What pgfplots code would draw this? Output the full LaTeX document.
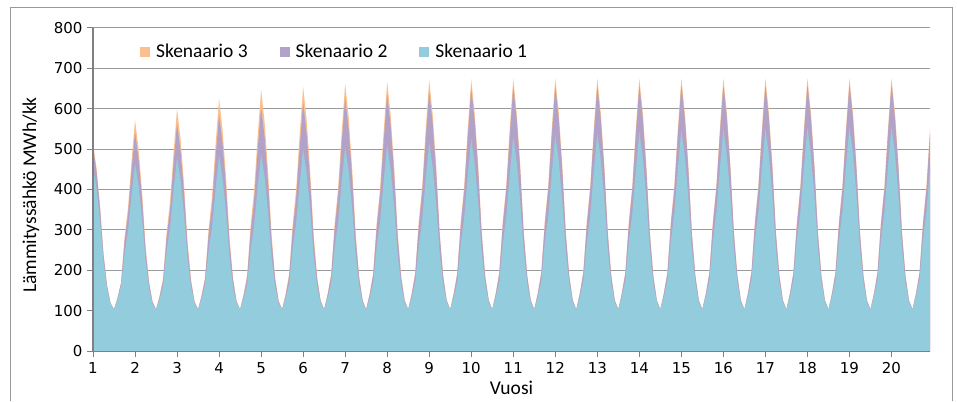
\documentclass[border=0pt]{standalone}
\usepackage{pgfplots}
\pgfplotsset{compat=1.18}
\usepackage{pgfplotstable}
\usepackage{fontspec}
\setmainfont{Carlito}
\newfontfamily\tickfont{DejaVu Sans}
\definecolor{sc3}{HTML}{FAC090}
\definecolor{sc2}{HTML}{B3A2C7}
\definecolor{sc1}{HTML}{93CDDD}
\definecolor{gridc}{HTML}{9A9A9A}
\definecolor{axc}{HTML}{808080}
\pgfplotsset{layers/mylayers/.define layer set={axis background,axis grid,main,axis ticks,axis lines,axis tick labels,axis descriptions,axis foreground}{
  grid style={/pgfplots/on layer=axis grid},
  tick style={/pgfplots/on layer=axis ticks},
  axis line style={/pgfplots/on layer=axis lines},
  label style={/pgfplots/on layer=axis descriptions},
  legend style={/pgfplots/on layer=axis descriptions},
  title style={/pgfplots/on layer=axis descriptions},
  ticklabel style={/pgfplots/on layer=axis tick labels},
  axis background@ style={/pgfplots/on layer=axis background},
}}

\pgfplotstableread{
t s1 s2 s3
0 455 505 515
1 403 445 454
2 323 354 360
3 221 238 241
4 155 162 164
5 117 119 119
6 103 103 103
7 128 131 132
8 160 168 169
9 240 270 281
10 297 339 355
11 386 447 469
12 465 543 572
13 411 477 502
14 329 378 396
15 225 251 261
16 156 168 172
17 117 121 122
18 103 103 103
19 128 134 136
20 161 174 179
21 246 278 291
22 305 351 370
23 397 463 491
24 480 564 600
25 424 495 526
26 338 391 413
27 230 258 270
28 158 171 176
29 118 121 123
30 103 103 103
31 129 135 138
32 164 177 183
33 247 286 301
34 308 362 383
35 401 479 511
36 484 585 625
37 427 513 547
38 341 404 429
39 231 265 278
40 159 174 180
41 118 122 124
42 103 103 103
43 130 137 140
44 164 181 187
45 249 293 310
46 310 373 396
47 404 495 529
48 488 605 648
49 431 530 567
50 343 416 443
51 232 272 286
52 160 177 183
53 118 123 125
54 103 103 103
55 130 138 141
56 165 184 191
57 253 297 312
58 316 378 399
59 413 503 534
60 500 615 655
61 441 539 573
62 351 423 447
63 236 275 289
64 161 178 184
65 119 124 125
66 103 103 103
67 131 139 142
68 167 185 192
69 255 302 315
70 319 385 404
71 417 513 540
72 505 628 663
73 445 550 580
74 354 431 452
75 238 279 291
76 162 180 185
77 119 124 125
78 103 103 103
79 131 140 142
80 168 188 193
81 257 305 317
82 322 389 406
83 421 519 544
84 510 636 667
85 449 557 583
86 357 436 455
87 240 282 293
88 163 181 186
89 119 124 126
90 103 103 103
91 132 140 143
92 169 189 194
93 260 308 318
94 325 394 408
95 426 526 547
96 516 644 671
97 455 563 586
98 361 441 457
99 242 285 294
100 164 183 187
101 120 125 126
102 103 103 103
103 132 141 143
104 170 190 194
105 263 310 319
106 330 397 409
107 433 530 548
108 525 650 673
109 462 569 588
110 366 444 459
111 245 287 295
112 165 183 187
113 120 125 126
114 103 103 103
115 133 141 143
116 171 191 195
117 265 312 319
118 332 399 410
119 437 533 549
120 530 654 674
121 466 572 589
122 369 447 459
123 247 288 295
124 166 184 187
125 120 125 126
126 103 103 103
127 133 142 143
128 172 192 195
129 267 313 320
130 335 400 410
131 440 535 550
132 535 656 675
133 471 574 590
134 373 448 460
135 248 289 295
136 167 184 187
137 120 125 126
138 103 103 103
139 133 142 143
140 173 192 195
141 268 313 320
142 337 401 410
143 444 536 550
144 539 657 675
145 474 574 590
146 375 449 460
147 250 289 295
148 167 184 187
149 120 125 126
150 103 103 103
151 134 142 143
152 173 192 195
153 270 313 320
154 339 401 410
155 447 536 550
156 543 658 675
157 477 575 590
158 378 449 460
159 251 289 295
160 168 185 187
161 121 125 126
162 103 103 103
163 134 142 143
164 174 192 195
165 271 313 320
166 341 401 410
167 450 536 550
168 547 658 675
169 481 575 590
170 380 449 460
171 252 289 295
172 168 185 187
173 121 125 126
174 103 103 103
175 134 142 143
176 175 192 195
177 272 314 320
178 343 402 410
179 451 537 550
180 549 659 675
181 483 576 590
182 381 450 460
183 253 290 295
184 169 185 187
185 121 125 126
186 103 103 103
187 134 142 143
188 175 193 195
189 273 314 320
190 344 402 410
191 453 537 550
192 551 659 675
193 484 576 590
194 383 450 460
195 254 290 295
196 169 185 187
197 121 125 126
198 103 103 103
199 134 142 143
200 175 193 195
201 274 314 320
202 345 402 410
203 455 538 550
204 553 660 675
205 486 577 590
206 384 451 460
207 254 290 295
208 169 185 187
209 121 125 126
210 103 103 103
211 135 142 143
212 175 193 195
213 274 314 320
214 346 402 410
215 456 538 550
216 555 660 675
217 488 577 590
218 385 451 460
219 255 290 295
220 169 185 187
221 121 125 126
222 103 103 103
223 135 142 143
224 176 193 195
225 274 314 320
226 346 402 410
227 456 538 550
228 555 660 675
229 488 577 590
230 385 451 460
231 255 290 295
232 169 185 187
233 121 125 126
234 103 103 103
235 135 142 143
236 176 193 195
237 274 314 320
238 346 402 410
239 456 538 550
}\data

\begin{document}
\begin{tikzpicture}
\path (0,0) rectangle (957pt,401pt);
\draw[black!40, line width=1pt] (10pt,0) -- (10pt,393pt) -- (952pt,393pt) -- (952pt,0);
\begin{axis}[
  set layers=mylayers,
  at={(93pt,50pt)}, anchor=south west,
  scale only axis, width=837pt, height=323pt,
  xmin=0, xmax=239, ymin=0, ymax=800,
  axis x line=bottom, axis y line=left,
  axis line style={-},
  x axis line style={draw=axc, line width=1pt},
  y axis line style={draw=axc, line width=2pt},
  xtick={0,12,...,228},
  xticklabels={1,2,3,4,5,6,7,8,9,10,11,12,13,14,15,16,17,18,19,20},
  ytick={0,100,...,800},
  tick align=outside, major tick length=6pt,
  tick style={draw=axc, line width=1pt},
  ymajorgrids, grid style={draw=gridc, line width=1pt},
  tick label style={font=\tickfont\fontsize{15}{18}\selectfont},
  xticklabel style={yshift=-2pt},
  yticklabel style={xshift=-1pt},
  /pgf/number format/assume math mode=true,
  xlabel={Vuosi}, ylabel={Lämmityssähkö MWh/kk},
  label style={font=\fontsize{19.5}{23}\selectfont},
  xlabel style={at={(axis description cs:0.5,-0.136)}, anchor=base},
  ylabel style={at={(axis description cs:-0.0681,0.483)}, anchor=base},
  legend columns=3,
  legend style={draw=none, fill=none, inner sep=0pt,
    at={(0.056,0.926)}, anchor=west,
    font=\fontsize{19.5}{23}\selectfont,
    /tikz/every odd column/.append style={column sep=4pt},
    /tikz/every even column/.append style={column sep=30pt}},
  legend image code/.code={\fill[#1] (0pt,-5pt) rectangle (10pt,5pt);},
]
\addplot[fill=sc3, draw=none] table[x=t,y=s3]{\data} \closedcycle;
\addplot[fill=sc2, draw=none] table[x=t,y=s2]{\data} \closedcycle;
\addplot[fill=sc1, draw=none] table[x=t,y=s1]{\data} \closedcycle;
\legend{Skenaario 3, Skenaario 2, Skenaario 1}
\end{axis}
\end{tikzpicture}
\end{document}
